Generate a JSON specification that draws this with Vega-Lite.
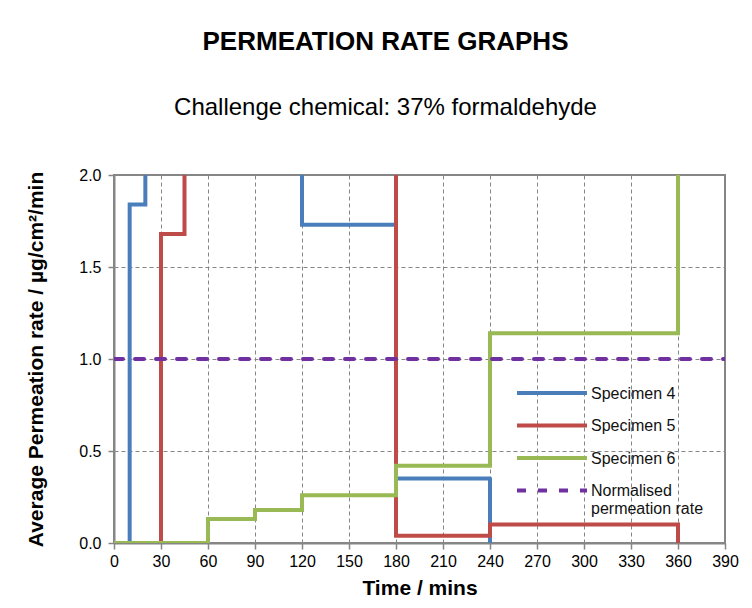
{
  "$schema": "https://vega.github.io/schema/vega-lite/v6.json",
  "width": 611,
  "height": 368,
  "autosize": {"type": "none"},
  "padding": {"left": 114, "top": 175, "right": 27, "bottom": 65},
  "background": "white",
  "config": {
    "font": "Liberation Sans",
    "view": {"stroke": "#868686", "strokeWidth": 2}
  },
  "title": {
    "text": "PERMEATION RATE GRAPHS",
    "subtitle": "Challenge chemical: 37% formaldehyde",
    "font": "Liberation Sans",
    "fontSize": 26,
    "fontWeight": "bold",
    "color": "black",
    "subtitleFont": "Liberation Sans",
    "subtitleFontSize": 24,
    "subtitleColor": "black",
    "subtitlePadding": 41,
    "offset": 47,
    "anchor": "middle",
    "dx": -34
  },
  "data": {
    "values": [
      {"series": "Specimen 4", "t": 0, "rate": 0},
      {"series": "Specimen 4", "t": 10, "rate": 1.84},
      {"series": "Specimen 4", "t": 20, "rate": 2.3},
      {"series": "Specimen 4", "t": 120, "rate": 1.73},
      {"series": "Specimen 4", "t": 180, "rate": 0.35},
      {"series": "Specimen 4", "t": 240, "rate": 0},
      {"series": "Specimen 5", "t": 0, "rate": 0},
      {"series": "Specimen 5", "t": 30, "rate": 1.68},
      {"series": "Specimen 5", "t": 45, "rate": 2.3},
      {"series": "Specimen 5", "t": 180, "rate": 0.04},
      {"series": "Specimen 5", "t": 240, "rate": 0.1},
      {"series": "Specimen 5", "t": 360, "rate": 0},
      {"series": "Specimen 6", "t": 0, "rate": 0},
      {"series": "Specimen 6", "t": 60, "rate": 0.13},
      {"series": "Specimen 6", "t": 90, "rate": 0.18},
      {"series": "Specimen 6", "t": 120, "rate": 0.26},
      {"series": "Specimen 6", "t": 180, "rate": 0.42},
      {"series": "Specimen 6", "t": 240, "rate": 1.14},
      {"series": "Specimen 6", "t": 360, "rate": 2.3},
      {"series": "Normalised permeation rate", "t": 0, "rate": 1},
      {"series": "Normalised permeation rate", "t": 390, "rate": 1}
    ]
  },
  "mark": {"type": "line", "interpolate": "step-after", "clip": true, "strokeWidth": 4, "strokeCap": "round"},
  "encoding": {
    "x": {
      "field": "t",
      "type": "quantitative",
      "scale": {"domain": [0, 390], "nice": false, "zero": false},
      "axis": {
        "values": [0, 30, 60, 90, 120, 150, 180, 210, 240, 270, 300, 330, 360, 390],
        "title": "Time / mins",
        "titleFontSize": 21,
        "titleFontWeight": "bold",
        "titleColor": "black",
        "titlePadding": 8,
        "labelFontSize": 16,
        "labelColor": "black",
        "labelPadding": 4,
        "labelFlush": false,
        "labelOverlap": false,
        "tickSize": 6,
        "tickColor": "#868686",
        "tickWidth": 1.5,
        "domainColor": "#868686",
        "domainWidth": 2,
        "gridColor": "#868686",
        "gridDash": [4, 3],
        "gridWidth": 1,
        "gridOpacity": 1
      }
    },
    "y": {
      "field": "rate",
      "type": "quantitative",
      "scale": {"domain": [0, 2], "nice": false},
      "axis": {
        "values": [0, 0.5, 1, 1.5, 2],
        "format": ".1f",
        "title": "Average  Permeation rate / µg/cm²/min",
        "titleFontSize": 21,
        "titleFontWeight": "bold",
        "titleColor": "black",
        "titlePadding": 32,
        "labelFontSize": 16,
        "labelColor": "black",
        "labelPadding": 7,
        "labelFlush": false,
        "tickSize": 6,
        "tickColor": "#868686",
        "tickWidth": 1.5,
        "domainColor": "#868686",
        "domainWidth": 2,
        "gridColor": "#868686",
        "gridDash": [4, 3],
        "gridWidth": 1,
        "gridOpacity": 1
      }
    },
    "color": {
      "field": "series",
      "type": "nominal",
      "scale": {
        "domain": ["Specimen 4", "Specimen 5", "Specimen 6", "Normalised permeation rate"],
        "range": ["#4A7EBB", "#BE4B48", "#98B954", "#7030A0"]
      },
      "legend": {
        "title": null,
        "orient": "none",
        "legendX": 422,
        "legendY": 202,
        "symbolType": "M-2.5,0H2.5",
        "symbolSize": 784,
        "symbolStrokeWidth": 4.5,
        "labelFontSize": 16,
        "labelColor": "#111111",
        "labelOffset": 23,
        "rowPadding": 7.5,
        "labelBaseline": "alphabetic",
        "labelExpr": "datum.label == 'Normalised permeation rate' ? ['Normalised', 'permeation rate'] : datum.label",
        "labelLimit": 200,
        "encode": {"labels": {"update": {"dy": {"value": 5.5}}}}
      }
    },
    "strokeDash": {
      "field": "series",
      "type": "nominal",
      "scale": {
        "domain": ["Specimen 4", "Specimen 5", "Specimen 6", "Normalised permeation rate"],
        "range": [[1, 0], [1, 0], [1, 0], [9, 12]]
      },
      "legend": {
        "title": null,
        "orient": "none",
        "legendX": 422,
        "legendY": 202,
        "symbolType": "M-2.5,0H2.5",
        "symbolSize": 784,
        "symbolStrokeWidth": 4.5,
        "labelFontSize": 16,
        "labelColor": "#111111",
        "labelOffset": 23,
        "rowPadding": 7.5,
        "labelBaseline": "alphabetic",
        "labelExpr": "datum.label == 'Normalised permeation rate' ? ['Normalised', 'permeation rate'] : datum.label",
        "labelLimit": 200,
        "encode": {"labels": {"update": {"dy": {"value": 5.5}}}}
      }
    },
    "strokeWidth": {
      "field": "series",
      "type": "nominal",
      "scale": {
        "domain": ["Specimen 4", "Specimen 5", "Specimen 6", "Normalised permeation rate"],
        "range": [4, 4, 4, 5.5]
      },
      "legend": null
    }
  }
}
